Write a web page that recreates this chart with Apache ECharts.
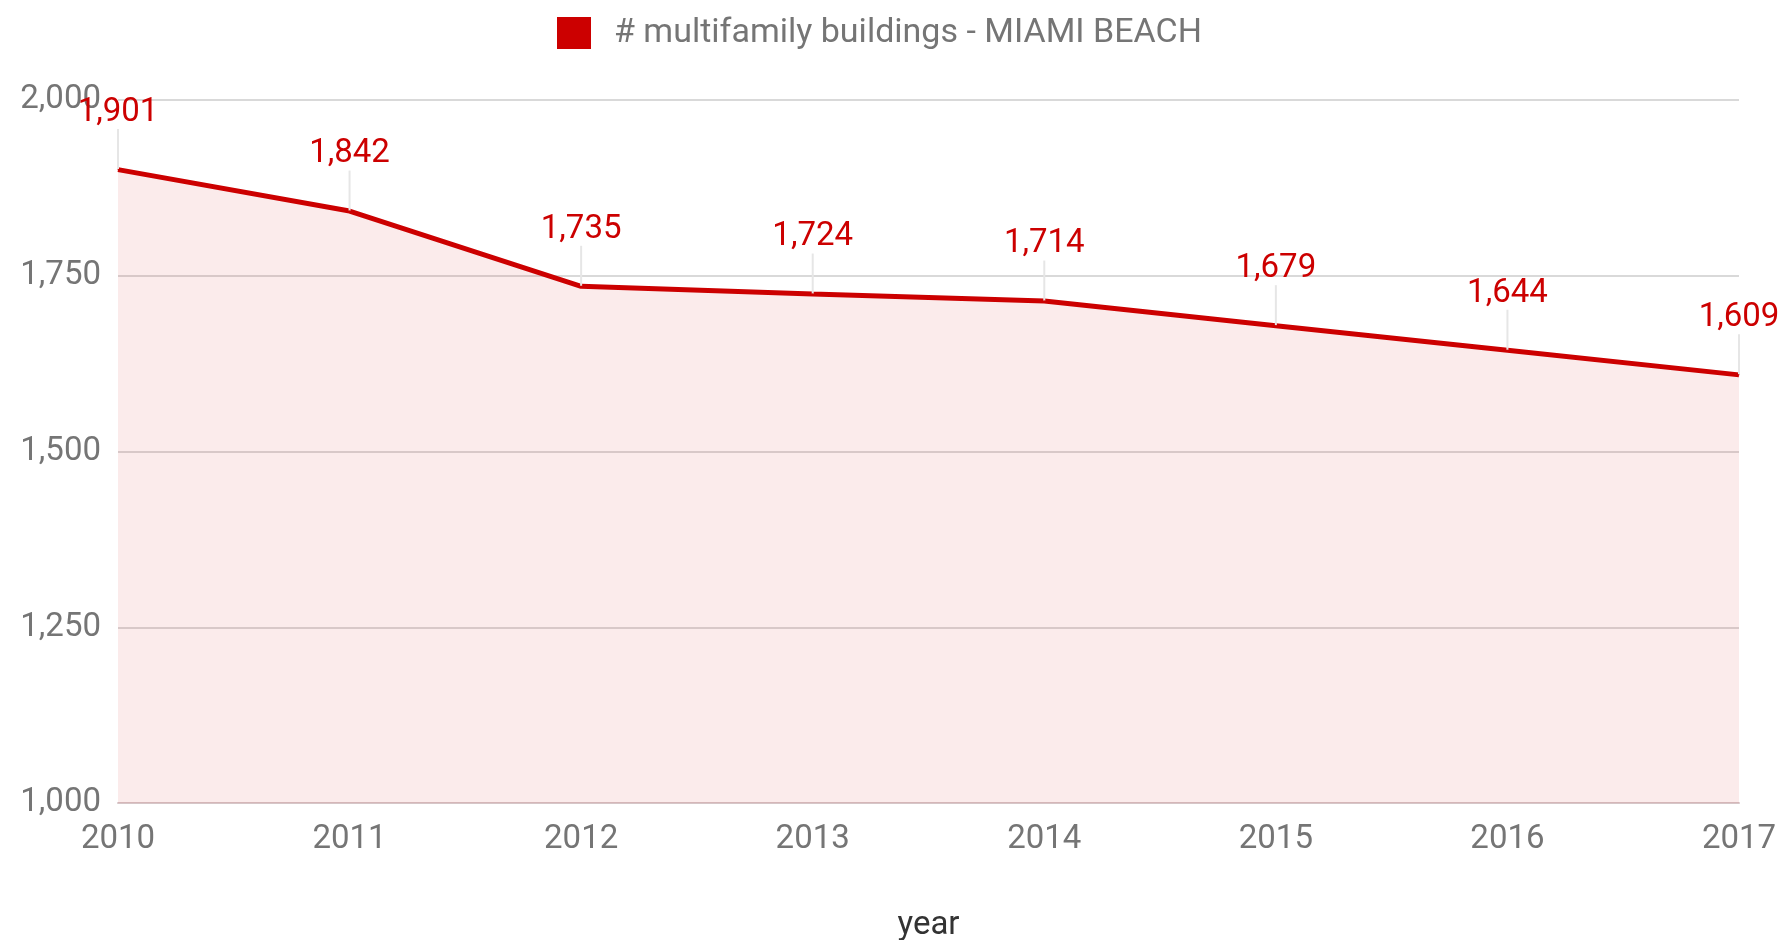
<!DOCTYPE html>
<html>
<head>
<meta charset="utf-8">
<script src="https://cdn.jsdelivr.net/npm/echarts@6/dist/echarts.min.js"></script>
<style>
  html, body { margin: 0; padding: 0; background: #fff; }
  #chart { width: 1786px; height: 940px; }
</style>
</head>
<body>
<div id="chart"></div>
<script>
const years = ['2010', '2011', '2012', '2013', '2014', '2015', '2016', '2017'];
const buildings = [1901, 1842, 1735, 1724, 1714, 1679, 1644, 1609];
const seriesName = '# multifamily buildings - MIAMI BEACH';
const axisName = 'year';

const chart = echarts.init(document.getElementById('chart'));

const fmt = v => v.toLocaleString('en-US');

chart.setOption({
    backgroundColor: '#fff',
    textStyle: { fontFamily: 'Roboto' },
    legend: {
        top: 11,
        left: 552,
        itemWidth: 34,
        itemHeight: 32,
        icon: 'rect',
        itemStyle: { borderRadius: 3 },
        textStyle: { fontSize: 34, color: '#757575', fontFamily: 'Roboto', padding: [0, 0, 0, 18] },
        data: [seriesName]
    },
    grid: { left: 118, right: 47, top: 100, bottom: 137, outerBoundsMode: 'none' },
    xAxis: {
        type: 'category',
        data: years,
        boundaryGap: false,
        name: axisName,
        nameLocation: 'middle',
        nameGap: 106,
        nameTextStyle: { fontSize: 33, color: '#333' },
        axisLine: { lineStyle: { color: '#d6c6c8', width: 2 } },
        axisTick: { show: false },
        axisLabel: { fontSize: 33, color: '#757575', margin: 20 }
    },
    yAxis: {
        type: 'value',
        min: 1000,
        max: 2000,
        interval: 250,
        axisLine: { show: false },
        axisTick: { show: false },
        axisLabel: { fontSize: 33, color: '#757575', margin: 17, formatter: fmt },
        splitLine: { lineStyle: { color: '#d9d9d9', width: 2 } }
    },
    series: [{
        name: seriesName,
        type: 'line',
        data: buildings,
        symbol: 'circle',
        symbolSize: 1,
        color: '#cc0000',
        lineStyle: { color: '#cc0000', width: 5 },
        areaStyle: { color: 'rgba(204,0,0,0.11)' },
        label: {
            show: true,
            position: 'top',
            distance: 8,
            fontSize: 33,
            color: '#cc0000',
            formatter: p => fmt(p.value)
        },
        labelLayout: { dy: -32 },
        labelLine: {
            show: true,
            lineStyle: { color: '#e6e6e6', width: 2 }
        }
    }]
});
</script>
</body>
</html>
